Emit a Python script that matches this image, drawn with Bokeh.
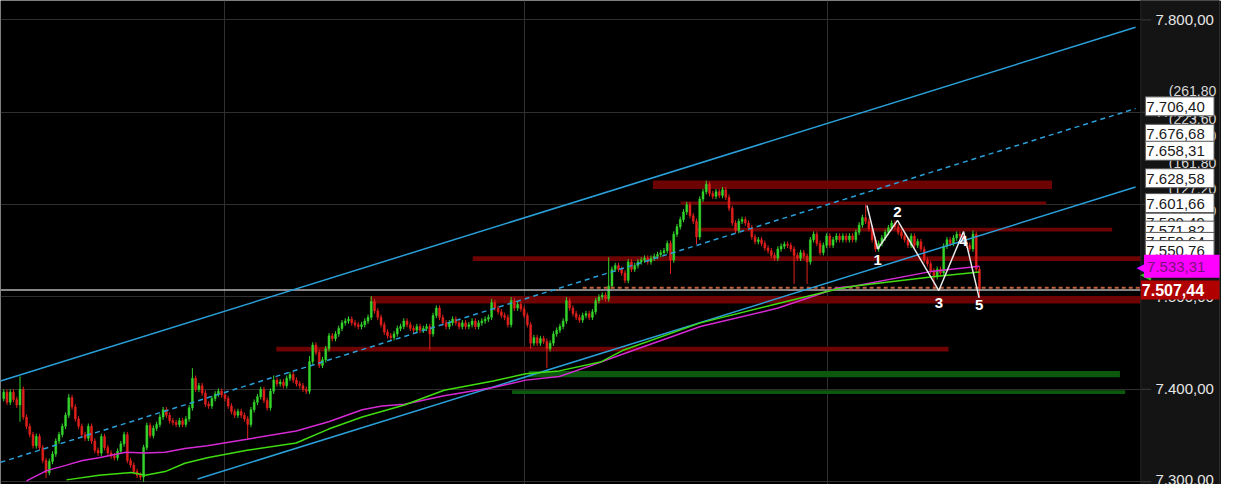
from bokeh.plotting import figure
from bokeh.models import FixedTicker, Label, Range1d, Grid
from bokeh.embed import file_html
from bokeh.resources import INLINE
from bokeh.core.properties import value

# ---------------- data ----------------
CLOSES = [
    7397, 7386, 7397, 7389, 7383, 7400, 7370, 7360, 7351, 7339,
    7349, 7337, 7323, 7310, 7322, 7330, 7344, 7351, 7360, 7372,
    7391, 7381, 7368, 7360, 7351, 7347, 7360, 7344, 7334, 7331,
    7349, 7337, 7331, 7328, 7326, 7333, 7341, 7351, 7323, 7318,
    7311, 7307, 7305, 7337, 7361, 7350, 7358, 7362, 7370, 7378,
    7372, 7366, 7364, 7362, 7366, 7362, 7368, 7380, 7412, 7400,
    7404, 7396, 7384, 7382, 7390, 7395, 7398, 7394, 7390, 7382,
    7376, 7372, 7376, 7372, 7368, 7362, 7378, 7386, 7392, 7400,
    7388, 7380, 7398, 7410, 7406, 7408, 7404, 7412, 7416, 7410,
    7406, 7404, 7400, 7398, 7430, 7448, 7440, 7426, 7432, 7444,
    7458, 7455, 7460, 7466, 7472, 7474, 7476, 7472, 7470, 7468,
    7470, 7474, 7478, 7495, 7485, 7478, 7470, 7462, 7458, 7456,
    7460, 7466, 7468, 7474, 7470, 7466, 7464, 7468, 7464, 7466,
    7468, 7460, 7480, 7488, 7478, 7472, 7468, 7472, 7476, 7472,
    7468, 7472, 7468, 7470, 7474, 7468, 7472, 7474, 7476, 7478,
    7494, 7488, 7484, 7480, 7478, 7470, 7496, 7488, 7492, 7487,
    7480, 7470, 7450, 7456, 7450, 7455, 7452, 7444, 7450, 7460,
    7464, 7468, 7474, 7496, 7488, 7482, 7478, 7475, 7480, 7482,
    7478, 7484, 7496, 7500, 7502, 7498, 7512, 7530, 7534, 7530,
    7526, 7518, 7538, 7530, 7534, 7538, 7540, 7542, 7538, 7542,
    7544, 7546, 7548, 7550, 7558, 7540, 7568, 7576, 7584, 7592,
    7600, 7588, 7582, 7565, 7606, 7614, 7622, 7612, 7609, 7614,
    7610, 7616, 7608, 7596, 7580, 7572, 7582, 7584, 7580, 7575,
    7565, 7560, 7562, 7558, 7553, 7550, 7545, 7542, 7552, 7555,
    7557, 7556, 7552, 7545, 7542, 7548, 7544, 7538, 7562, 7568,
    7558, 7548, 7556, 7566, 7556, 7562, 7566, 7562, 7566, 7562,
    7566, 7562, 7570, 7578, 7586, 7582, 7574, 7562, 7552, 7558,
    7564, 7570, 7575, 7580, 7576, 7570, 7566, 7562, 7556, 7566,
    7556, 7560, 7552, 7540, 7536, 7528, 7522, 7530, 7526, 7555,
    7562, 7558, 7564, 7568, 7566, 7560, 7556, 7552, 7568, 7530, 7507.44,
]
FIRST_OPEN = 7390.0
WICK = 3.0
HIGH_SPIKES = {5: 7414, 20: 7395, 58: 7423, 83: 7415, 94: 7436, 113: 7501,
               150: 7498, 156: 7500, 173: 7500, 186: 7543, 204: 7561,
               216: 7626, 265: 7600, 298: 7572}
LOW_SPIKES = {5: 7365, 13: 7304, 43: 7300, 75: 7346, 131: 7443, 162: 7444,
              167: 7423, 205: 7525, 213: 7557, 243: 7514, 247: 7514,
              286: 7508, 300: 7500}
LAST_PRICE = 7507.44

MAG_I = [7.0, 13.2, 19.3, 24.2, 29.3, 37.5, 43.5, 49.6, 55.7, 62.6, 74.8, 89.9,
         99.9, 110.2, 116.3, 123.2, 135.4, 150.5, 160.5, 170.8, 180.8, 190.2,
         214.2, 238.1, 256.6, 261.7, 285.7, 300]
MAG_V = [7301, 7312, 7318, 7323, 7326, 7332, 7331, 7332, 7336, 7339, 7346, 7355,
         7365, 7378, 7382, 7384, 7393, 7402, 7410, 7414, 7426, 7438,
         7468, 7488, 7510, 7512, 7528, 7533.31]
GRN_I = [19.3, 29.3, 39.3, 43.5, 49.6, 55.7, 62.6, 74.8, 89.9, 99.9, 110.2,
         123.2, 135.4, 150.5, 160.5, 170.8, 183.8, 190.2, 214.2, 238.1, 256.6,
         261.7, 285.7, 300]
GRN_V = [7302, 7307, 7310, 7307, 7311, 7320, 7326, 7334, 7342, 7357, 7370,
         7383, 7399, 7409, 7417, 7420, 7430, 7442, 7472, 7493, 7509,
         7512, 7522, 7527]

UPPER_I = [-1, 348]
UPPER_V = [7409, 7792]
MID_I = [-1, 348]
MID_V = [7321, 7704]
LOWER_I = [59.6, 348]
LOWER_V = [7303, 7619]

RED_LEFT = [199.6, 208.1, 212.9, 144.2, 112.6, 83.8]
RED_RIGHT = [322.3, 320.5, 340.8, 350.0, 350.0, 290.5]
RED_BOTTOM = [7617, 7600, 7571, 7539, 7493, 7441]
RED_TOP = [7626, 7603.5, 7575, 7544, 7501, 7446]
GRN_LEFT = [161.4, 156.3]
GRN_RIGHT = [343.2, 344.8]
GRN_BOTTOM = [7413, 7395]
GRN_TOP = [7420, 7399]

DASH_LEVEL = 7510.0
DASH_START = 178

WAVE_I = [265.4, 268.7, 274.8, 287.5, 295.1, 299.9]
WAVE_V = [7599, 7552, 7583, 7507, 7571, 7499]
WAVE_TEXT = ["1", "2", "3", "4", "5"]
WAVE_TEXT_I = [268.7, 274.8, 287.5, 295.1, 299.9]
WAVE_TEXT_V = [7540, 7592, 7494, 7561, 7491]

Y_TICKS = [7300, 7400, 7500, 7600, 7700, 7800]
V_GRID = [67.8, 160.2, 253.2]

BOX_PRICES = [7706.40, 7676.68, 7658.31, 7628.58, 7601.66, 7580.49, 7571.82,
              7559.64, 7550.76]
FIB_TEXT = ["(261,80", "(223,60", "(200,00", "(161,80", "(127,20", "(100,00"]
FIB_PRICES = [7723.5, 7693, 7674, 7645, 7617, 7593]
MAG_LAST = 7533.31
GRN_LAST = 7527.0

X_START, X_END = -1, 373.8
PANEL_X = 349.6          # where the price-scale panel begins
Y_START, Y_END = 7297, 7821


def de(v):
    return f"{v:,.2f}".replace(",", "X").replace(".", ",").replace("X", ".")


FONT_NAME = "Liberation Sans"
FONT = value(FONT_NAME)
GREEN = "#35d42c"
RED = "#e0201c"
PANEL = "#141414"

p = figure(width=1221, height=484, output_backend="svg", toolbar_location=None,
           x_range=Range1d(X_START, X_END), y_range=Range1d(Y_START, Y_END),
           x_axis_location=None, y_axis_location="right",
           background_fill_color="#000000", border_fill_color=PANEL,
           min_border_left=0, min_border_right=2, min_border_top=0,
           min_border_bottom=0, outline_line_color=None)

p.grid.grid_line_color = None
p.add_layout(Grid(dimension=0, ticker=FixedTicker(ticks=V_GRID),
                  grid_line_color="#303030", grid_line_width=1))
p.add_layout(Grid(dimension=1, ticker=FixedTicker(ticks=Y_TICKS),
                  grid_line_color="#303030", grid_line_width=1))

ax = p.yaxis[0]
ax.ticker = FixedTicker(ticks=Y_TICKS)
ax.major_label_overrides = {t: de(t) for t in Y_TICKS}
ax.major_label_text_color = "#e6e6e6"
ax.major_label_text_font = FONT_NAME
ax.major_label_text_font_size = "15px"
ax.major_tick_line_color = None
ax.major_tick_out = 0
ax.major_tick_in = 0
ax.minor_tick_line_color = None
ax.axis_line_color = None
ax.major_label_standoff = -64

# zones
p.quad(left=RED_LEFT, right=RED_RIGHT, bottom=RED_BOTTOM, top=RED_TOP,
       fill_color="#6e0303", line_color=None)
p.quad(left=GRN_LEFT, right=GRN_RIGHT, bottom=GRN_BOTTOM, top=GRN_TOP,
       fill_color="#0c580c", line_color=None)

# candles
idx = list(range(len(CLOSES)))
opens = [FIRST_OPEN] + CLOSES[:-1]
highs = [HIGH_SPIKES.get(i, max(o, c) + WICK) for i, (o, c) in enumerate(zip(opens, CLOSES))]
lows = [LOW_SPIKES.get(i, min(o, c) - WICK) for i, (o, c) in enumerate(zip(opens, CLOSES))]
cols = [GREEN if c >= o else RED for o, c in zip(opens, CLOSES)]
tops = [max(o, c) for o, c in zip(opens, CLOSES)]
bots = [min(o, c) for o, c in zip(opens, CLOSES)]
p.segment(x0=idx, y0=lows, x1=idx, y1=highs, line_color=cols, line_width=1)
p.vbar(x=idx, width=0.6, top=tops, bottom=bots, fill_color=cols, line_color=cols,
       line_width=0.5)

# price lines
p.segment(x0=[DASH_START], y0=[DASH_LEVEL], x1=[PANEL_X], y1=[DASH_LEVEL],
          line_color="#c0603c", line_width=2, line_dash="4 3")
p.segment(x0=[X_START], y0=[LAST_PRICE], x1=[PANEL_X], y1=[LAST_PRICE],
          line_color="#b4b4b4", line_width=1.5)

# channel
p.line(UPPER_I, UPPER_V, line_color="#2a9fd8", line_width=1.5)
p.line(MID_I, MID_V, line_color="#2a9fd8", line_width=1.5, line_dash="5 4")
p.line(LOWER_I, LOWER_V, line_color="#2a9fd8", line_width=1.5)

# moving averages
p.line(MAG_I, MAG_V, line_color="#d42ad4", line_width=1.5)
p.line(GRN_I, GRN_V, line_color="#40dd10", line_width=1.5)

# waves
p.line(WAVE_I, WAVE_V, line_color="#e8e8e8", line_width=1.5)
p.text(x=WAVE_TEXT_I, y=WAVE_TEXT_V, text=WAVE_TEXT, text_color="#ffffff",
       text_font=FONT, text_font_size="15px", text_font_style="bold",
       text_align="center", text_baseline="middle")

# price-scale panel (right side)
p.quad(left=[PANEL_X], right=[X_END + 1], bottom=[Y_START - 10], top=[Y_END + 10],
       fill_color=PANEL, line_color=None)
p.segment(x0=[PANEL_X] * len(Y_TICKS), y0=Y_TICKS, x1=[PANEL_X + 3.2] * len(Y_TICKS),
          y1=Y_TICKS, line_color="#3a3a3a", line_width=1)
p.segment(x0=[PANEL_X], y0=[Y_START - 10], x1=[PANEL_X], y1=[Y_END + 10],
          line_color="#262626", line_width=1)

# axis-side price labels
for t, v in zip(FIB_TEXT, FIB_PRICES):
    p.add_layout(Label(x=358.2, y=v, text=t, text_color="#d8d8d8", text_font=FONT_NAME,
                       text_font_size="14px", text_baseline="middle"))
for v in BOX_PRICES:
    p.add_layout(Label(x=351.0, y=v, text=" " + de(v) + " ", text_color="#1a1a1a",
                       text_font=FONT_NAME, text_font_size="15px", text_baseline="middle",
                       background_fill_color="#ffffff", border_line_color="#555555",
                       padding=1))
p.add_layout(Label(x=349.4, y=GRN_LAST - 2, text="\u25c0", text_color="#30c020",
                   text_font="DejaVu Sans", text_font_size="14px", text_baseline="middle"))
p.add_layout(Label(x=348.3, y=MAG_LAST, text="\u25c0", text_color="#ff00ff",
                   text_font="DejaVu Sans", text_font_size="22px", text_baseline="middle"))
p.add_layout(Label(x=350.6, y=MAG_LAST, text="  " + de(MAG_LAST) + "    ", text_color="#7a127a",
                   text_font=FONT_NAME, text_font_size="15px", text_baseline="middle",
                   background_fill_color="#ff00ff", padding=3))
p.add_layout(Label(x=PANEL_X, y=LAST_PRICE, text=" " + de(LAST_PRICE) + "    ",
                   text_color="#ffffff", text_font=FONT_NAME, text_font_size="16px",
                   text_font_style="bold", text_baseline="middle",
                   background_fill_color="#b00000", padding=1))

open("out.html", "w").write(file_html(p, INLINE))
